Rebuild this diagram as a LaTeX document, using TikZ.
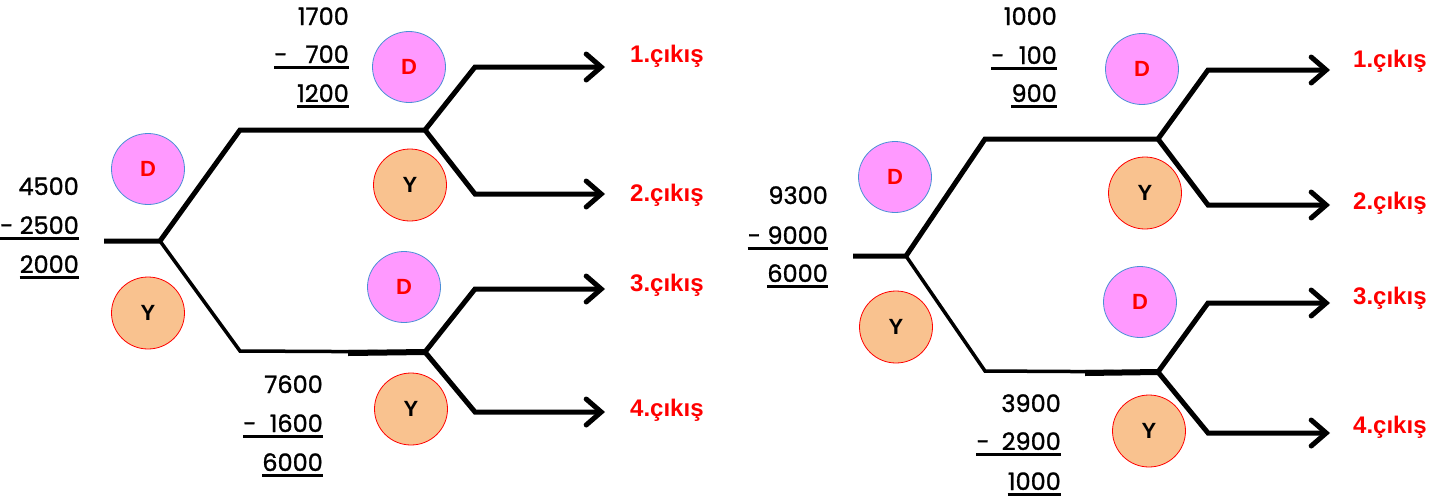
\documentclass[tikz,border=0pt]{standalone}
\usepackage{fontspec}
\setmainfont{Liberation Sans}
\newfontfamily\numfont[FakeBold=1.2]{Poppins}
\usetikzlibrary{arrows.meta,shapes.geometric}

\definecolor{dpink}{HTML}{FF99FF}
\definecolor{dblue}{HTML}{4A8FD6}
\definecolor{ypeach}{HTML}{F9C28F}

\begin{document}
\begin{tikzpicture}[
  x=1pt, y=-1pt,
  branch/.style={line width=5pt},
  outarrow/.style={line width=5pt, -{Straight Barb[length=15pt, width=26pt, line cap=round]}},
  dnode/.style={ellipse, draw=dblue, line width=0.8pt, fill=dpink, minimum width=73pt, minimum height=71pt,
    text=red, font=\bfseries\fontsize{22}{22}\selectfont},
  ynode/.style={ellipse, draw=red, line width=0.8pt, fill=ypeach, minimum width=73pt, minimum height=72pt,
    font=\bfseries\fontsize{22}{22}\selectfont},
  num/.style={font=\numfont\fontsize{24}{24}\selectfont, anchor=base east, inner sep=0pt},
  uline/.style={line width=3pt},
  exit/.style={font=\bfseries\fontsize{24}{24}\selectfont, text=red, anchor=base west, inner sep=0pt}
]
\useasboundingbox (0,0) rectangle (1451,501);

% --- Left tree ---
\coordinate (Lr)  at (104,241);
\coordinate (Lj)  at (160,241);
\coordinate (Lu)  at (240,130);
\coordinate (Luj) at (425,130);
\coordinate (Ll)  at (240,351);
\coordinate (Llj) at (425,352);
\coordinate (Lm)  at (348,353);

\draw[branch] (Lr) -- (Lj) -- (Lu) -- (Luj);
\draw[line width=3.5pt] (Lj) -- (Ll) -- (Llj);
\draw[line width=6pt] (Lm) -- (Llj);

\coordinate (La1) at (475,67);   \coordinate (Le1) at (605,67);
\coordinate (La2) at (475,194);  \coordinate (Le2) at (605,194);
\coordinate (La3) at (475,289);  \coordinate (Le3) at (605,289);
\coordinate (La4) at (475,412);  \coordinate (Le4) at (605,412);

\draw[outarrow] (Luj) -- (La1) -- (Le1);
\draw[outarrow] (Luj) -- (La2) -- (Le2);
\draw[outarrow] (Llj) -- (La3) -- (Le3);
\draw[outarrow] (Llj) -- (La4) -- (Le4);

\node[exit] (Lx1) at (630,62)  {1.çıkış};
\node[exit] (Lx2) at (630,201) {2.çıkış};
\node[exit] (Lx3) at (630,291) {3.çıkış};
\node[exit] (Lx4) at (630,416) {4.çıkış};

\node[dnode] (LD0) at (148,169) {D};
\node[ynode] (LY0) at (148,313) {Y};
\node[dnode] (LD1) at (409,67)  {D};
\node[ynode] (LY1) at (410,185) {Y};
\node[dnode] (LD2) at (404,287) {D};
\node[ynode] (LY2) at (411,409) {Y};

% subtractions
\node[num] (La)  at (79,195) {4500};
\node[num] (Lb)  at (79,234) {- 2500};
\node[num] (Lc)  at (79,273) {2000};
\draw[uline] ([yshift=-4pt]Lb.base west) -- ([yshift=-4pt]Lb.base east);
\draw[uline] ([yshift=-4pt]Lc.base west) -- ([yshift=-4pt]Lc.base east);

\node[num] (Lua) at (349,25)  {1700};
\node[num] (Lub) at (349,63)  {-\hspace{0.75em}700};
\node[num] (Luc) at (349,102) {1200};
\draw[uline] ([yshift=-4pt]Lub.base west) -- ([yshift=-4pt]Lub.base east);
\draw[uline] ([yshift=-4pt]Luc.base west) -- ([yshift=-4pt]Luc.base east);

\node[num] (Lla) at (323,393) {7600};
\node[num] (Llb) at (323,432) {-\hspace{0.55em}1600};
\node[num] (Llc) at (323,471) {6000};
\draw[uline] ([yshift=-4pt]Llb.base west) -- ([yshift=-4pt]Llb.base east);
\draw[uline] ([yshift=-4pt]Llc.base west) -- ([yshift=-4pt]Llc.base east);

% --- Right tree ---
\coordinate (Rr)  at (853,256);
\coordinate (Rj)  at (906,256);
\coordinate (Ru)  at (985,139);
\coordinate (Ruj) at (1158,139);
\coordinate (Rl)  at (985,371);
\coordinate (Rlj) at (1158,372);
\coordinate (Rm)  at (1085,373);

\draw[branch] (Rr) -- (Rj) -- (Ru) -- (Ruj);
\draw[line width=3.5pt] (Rj) -- (Rl) -- (Rlj);
\draw[line width=6pt] (Rm) -- (Rlj);

\coordinate (Ra1) at (1208,70);   \coordinate (Re1) at (1330,70);
\coordinate (Ra2) at (1208,205);  \coordinate (Re2) at (1330,205);
\coordinate (Ra3) at (1208,303);  \coordinate (Re3) at (1330,303);
\coordinate (Ra4) at (1208,433);  \coordinate (Re4) at (1330,433);

\draw[outarrow] (Ruj) -- (Ra1) -- (Re1);
\draw[outarrow] (Ruj) -- (Ra2) -- (Re2);
\draw[outarrow] (Rlj) -- (Ra3) -- (Re3);
\draw[outarrow] (Rlj) -- (Ra4) -- (Re4);

\node[exit] (Rx1) at (1353,67)  {1.çıkış};
\node[exit] (Rx2) at (1353,209) {2.çıkış};
\node[exit] (Rx3) at (1353,304) {3.çıkış};
\node[exit] (Rx4) at (1353,433) {4.çıkış};

\node[dnode] (RD0) at (895,177)  {D};
\node[ynode] (RY0) at (896,327)  {Y};
\node[dnode] (RD1) at (1142,69)  {D};
\node[ynode] (RY1) at (1145,193) {Y};
\node[dnode] (RD2) at (1140,302) {D};
\node[ynode] (RY2) at (1149,431) {Y};

% subtractions
\node[num] (Ra)  at (828,204) {9300};
\node[num] (Rb)  at (828,244) {- 9000};
\node[num] (Rc)  at (828,282) {6000};
\draw[uline] ([yshift=-4pt]Rb.base west) -- ([yshift=-4pt]Rb.base east);
\draw[uline] ([yshift=-4pt]Rc.base west) -- ([yshift=-4pt]Rc.base east);

\node[num] (Rua) at (1057,25)  {1000};
\node[num] (Rub) at (1057,64)  {-\hspace{0.6em}100};
\node[num] (Ruc) at (1057,102) {900};
\draw[uline] ([yshift=-4pt]Rub.base west) -- ([yshift=-4pt]Rub.base east);
\draw[uline] ([yshift=-4pt]Ruc.base west) -- ([yshift=-4pt]Ruc.base east);

\node[num] (Rla) at (1061,412) {3900};
\node[num] (Rlb) at (1061,450) {-\hspace{0.5em}2900};
\node[num] (Rlc) at (1061,490) {1000};
\draw[uline] ([yshift=-4pt]Rlb.base west) -- ([yshift=-4pt]Rlb.base east);
\draw[uline] ([yshift=-4pt]Rlc.base west) -- ([yshift=-4pt]Rlc.base east);

\end{tikzpicture}
\end{document}
